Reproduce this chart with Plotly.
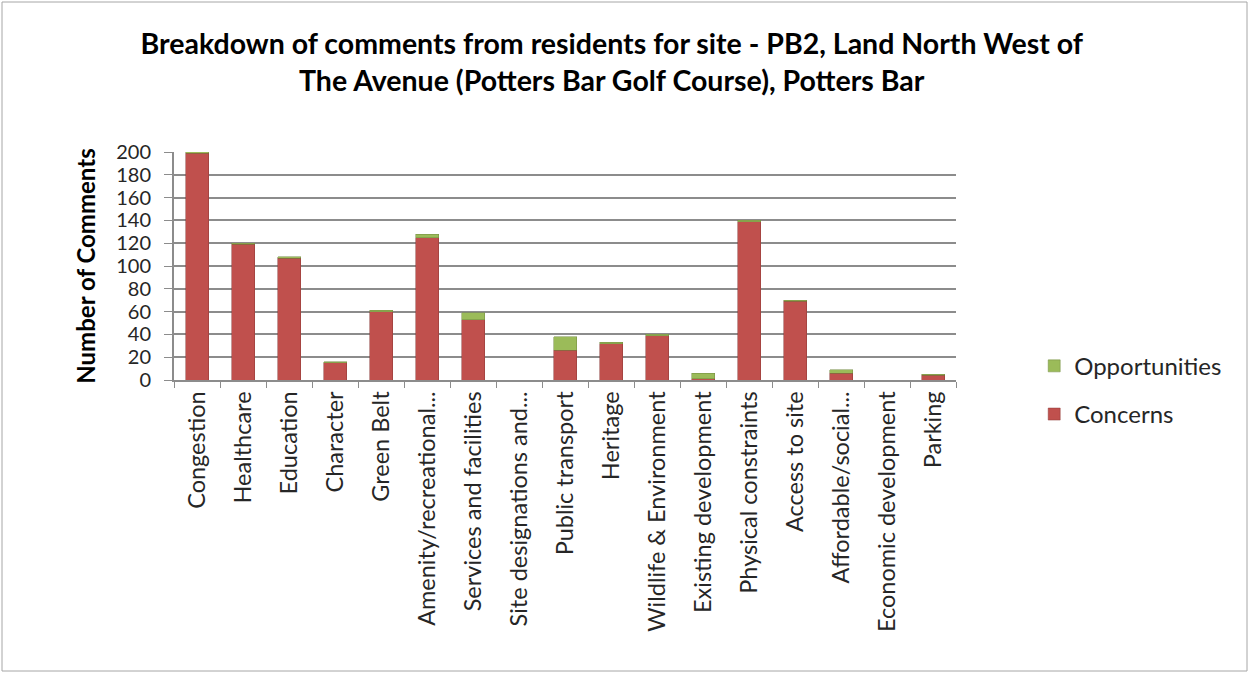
import plotly.graph_objects as go

# ─── DATA ────────────────────────────────────────────────────────────────────
categories = [
    "Congestion", "Healthcare", "Education", "Character", "Green Belt",
    "Amenity/recreational...", "Services and facilities", "Site designations and...",
    "Public transport", "Heritage", "Wildlife & Environment", "Existing development",
    "Physical constraints", "Access to site", "Affordable/social...",
    "Economic development", "Parking",
]
concerns = [199, 119, 107, 15, 60, 125, 53, 0, 26, 32, 39, 1, 139, 69, 6, 0, 4]
opportunities = [2, 1, 1, 1, 1, 3, 6, 0, 12, 1, 1, 5, 1, 1, 3, 0, 1]

RED = "#C0504D"
GREEN = "#9BBB59"
TXT = "#262626"
FONT = "Lato, Liberation Sans, sans-serif"

W, H = 1251, 675
L, R, T, B = 174, 295, 152, 295

fig = go.Figure()
fig.add_trace(go.Bar(x=categories, y=concerns, name="Concerns",
                     marker=dict(color=RED, line=dict(color="#8C3836", width=0.5)),
                     width=0.5, legendgroup="c", legendrank=2))
fig.add_trace(go.Bar(x=categories, y=opportunities, name="Opportunities",
                     marker=dict(color=GREEN, line=dict(color="#71893F", width=0.5)),
                     width=0.5, legendgroup="o", legendrank=1))

# chart-area border (paper coords relative to plot area)
pw, ph = W - L - R, H - T - B
fig.add_shape(type="rect", xref="paper", yref="paper",
              x0=(2 - L) / pw, x1=(W - 4 - L) / pw,
              y0=-(H - 4 - T - ph) / ph, y1=1 + (T - 2) / ph,
              line=dict(color="#A6A6A6", width=1), layer="below")

fig.update_layout(
    width=W, height=H,
    margin=dict(l=L, r=R, t=T, b=B),
    barmode="stack",
    plot_bgcolor="white", paper_bgcolor="white",
    font=dict(family=FONT, size=18, color=TXT),
    title=dict(
        text="<b>Breakdown of comments from residents for site - PB2, Land North West of<br>"
             "The Avenue (Potters Bar Golf Course), Potters Bar</b>",
        x=0.489, xanchor="center", y=0.92, yanchor="middle",
        font=dict(size=28.5, family=FONT, color="#000000"),
    ),
    legend=dict(x=1.1, y=-0.045, xanchor="left", yanchor="middle",
                traceorder="grouped", tracegroupgap=14,
                font=dict(size=24, color=TXT)),
    showlegend=True,
)
fig.update_yaxes(range=[0, 200], dtick=20, showgrid=True, gridcolor="#8C8C8C",
                 gridwidth=2, showline=True, linecolor="#8C8C8C", linewidth=2,
                 ticks="outside", ticklen=8, tickcolor="#8C8C8C",
                 ticklabelstandoff=9,
                 tickfont=dict(size=20, color=TXT), zeroline=False,
                 title=dict(text="<b>Number of Comments</b>",
                            font=dict(size=24, color="#000000"), standoff=14))
fig.update_xaxes(tickangle=-90, showline=True, linecolor="#8C8C8C", linewidth=2,
                 ticks="outside", tickson="boundaries", ticklen=6, tickcolor="#8C8C8C",
                 tickfont=dict(size=23.5, color=TXT))

fig.write_html("out.html", config={"displayModeBar": False},
               post_script="document.body.style.margin='0';")
